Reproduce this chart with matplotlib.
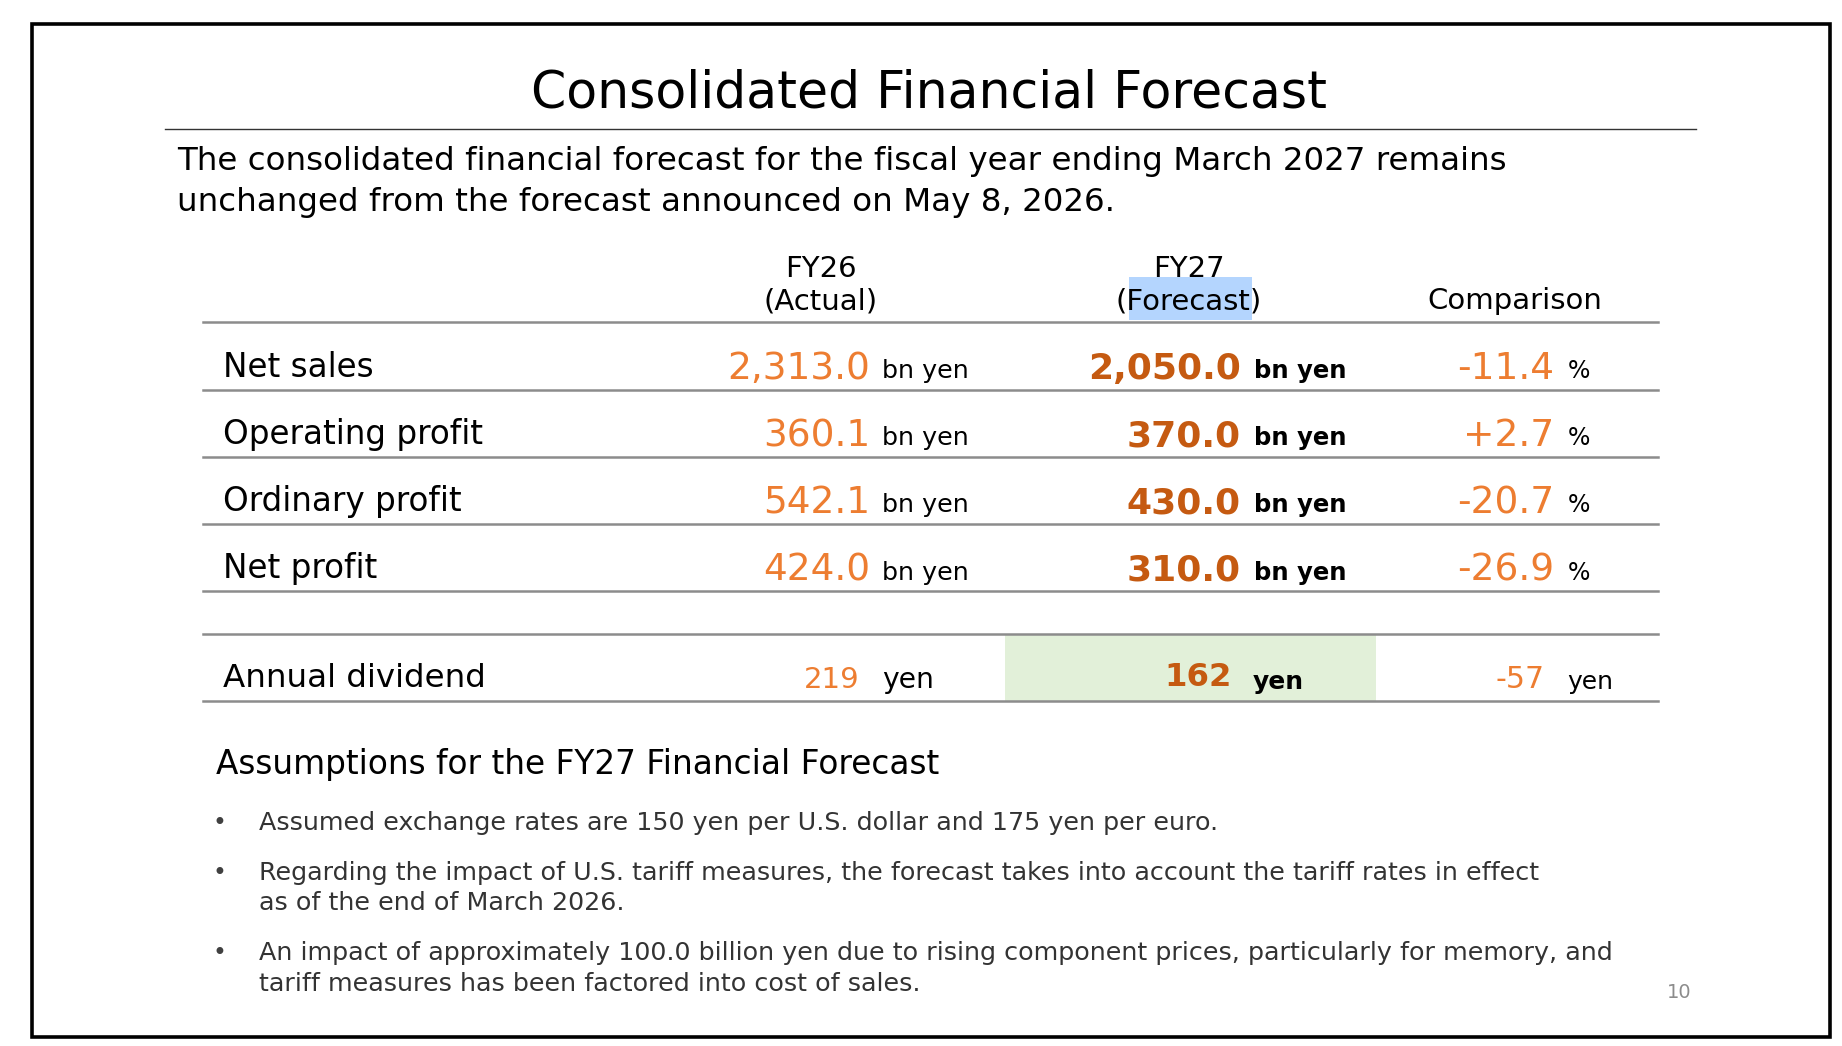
import matplotlib.pyplot as plt
from matplotlib.patches import Rectangle

# table content
row_labels = ['Net sales', 'Operating profit', 'Ordinary profit', 'Net profit']
fy26_values = [2313.0, 360.1, 542.1, 424.0]
fy27_values = [2050.0, 370.0, 430.0, 310.0]
comparison_pct = [-11.4, 2.7, -20.7, -26.9]

dividend_label = 'Annual dividend'
dividend_fy26 = 219
dividend_fy27 = 162
dividend_diff = -57

title = 'Consolidated Financial Forecast'
intro = ['The consolidated financial forecast for the fiscal year ending March 2027 remains',
         'unchanged from the forecast announced on May 8, 2026.']
assumptions_title = 'Assumptions for the FY27 Financial Forecast'
assumptions = [
    ['Assumed exchange rates are 150 yen per U.S. dollar and 175 yen per euro.'],
    ['Regarding the impact of U.S. tariff measures, the forecast takes into account the tariff rates in effect',
     'as of the end of March 2026.'],
    ['An impact of approximately 100.0 billion yen due to rising component prices, particularly for memory, and',
     'tariff measures has been factored into cost of sales.'],
]
page_no = '10'

ORANGE = '#ED7D31'
DARK_ORANGE = '#C55A11'
GRID = '#8C8C8C'

W, H = 1560, 886
fig = plt.figure(figsize=(18.42, 10.46), dpi=100)
ax = fig.add_axes([0, 0, 1, 1])
ax.set_xlim(0, W)
ax.set_ylim(H, 0)
ax.axis('off')

# slide frame
ax.add_patch(Rectangle((27, 20), 1523, 858, fill=False, ec='black', lw=2.6))

ax.text(787, 91, title, ha='center', va='baseline', fontsize=36.4)
ax.plot([140, 1436], [109, 109], color='#333333', lw=1.0)
for i, line in enumerate(intro):
    ax.text(150, 144 + 35 * i, line, ha='left', va='baseline', fontsize=23.4)

# header
ax.add_patch(Rectangle((956, 235), 104, 36, color='#B4D5FE', lw=0))
ax.text(695, 235, 'FY26', ha='center', va='baseline', fontsize=21)
ax.text(695, 262, '(Actual)', ha='center', va='baseline', fontsize=21)
ax.text(1007, 235, 'FY27', ha='center', va='baseline', fontsize=21)
ax.text(1007, 262, '(Forecast)', ha='center', va='baseline', fontsize=21)
ax.text(1283, 262, 'Comparison', ha='center', va='baseline', fontsize=21)
ax.plot([172, 1404], [272.5, 272.5], color=GRID, lw=1.8)

row_y0, pitch = 319, 57
for i, label in enumerate(row_labels):
    y = row_y0 + pitch * i
    ax.text(189, y, label, ha='left', va='baseline', fontsize=23.5)
    ax.text(737, y + 2, f'{fy26_values[i]:,.1f}', ha='right', va='baseline',
            fontsize=27, color=ORANGE)
    ax.text(747, y + 1, 'bn yen', ha='left', va='baseline', fontsize=18.3)
    ax.text(1051, y + 2, f'{fy27_values[i]:,.1f}', ha='right', va='baseline',
            fontsize=26, color=DARK_ORANGE, weight='bold')
    ax.text(1062, y + 1, 'bn yen', ha='left', va='baseline', fontsize=17.5, weight='bold')
    ax.text(1316, y + 2, f'{comparison_pct[i]:+.1f}'.replace('+-', '-'), ha='right',
            va='baseline', fontsize=27, color=ORANGE)
    ax.text(1328, y + 1, '%', ha='left', va='baseline', fontsize=17)
    ax.plot([172, 1404], [y + 11, y + 11], color=GRID, lw=1.8)

# dividend row
ax.add_patch(Rectangle((851, 538), 314, 56, color='#E2F0D9', lw=0))
ax.plot([172, 1404], [537, 537], color=GRID, lw=1.8)
ax.plot([172, 1404], [594, 594], color=GRID, lw=1.8)
dy = 582
ax.text(189, dy, dividend_label, ha='left', va='baseline', fontsize=23.4)
ax.text(728, dy + 1, f'{dividend_fy26}', ha='right', va='baseline', fontsize=21, color=ORANGE)
ax.text(747, dy + 1, 'yen', ha='left', va='baseline', fontsize=20.3)
ax.text(1043, dy - 1, f'{dividend_fy27}', ha='right', va='baseline', fontsize=23.2,
        color=DARK_ORANGE, weight='bold')
ax.text(1061, dy + 2, 'yen', ha='left', va='baseline', fontsize=18, weight='bold')
ax.text(1308, dy + 1, f'{dividend_diff}', ha='right', va='baseline', fontsize=21.5, color=ORANGE)
ax.text(1327, dy + 2, 'yen', ha='left', va='baseline', fontsize=18)

# assumptions
ax.text(183, 656, assumptions_title, ha='left', va='baseline', fontsize=23.6)
by = 703
for item in assumptions:
    ax.text(186, by, '\u2022', ha='center', va='baseline', fontsize=17, color='#404040')
    for j, line in enumerate(item):
        ax.text(219, by + 26 * j, line, ha='left', va='baseline', fontsize=18.3, color='#333333')
    by += 26 * (len(item) - 1) + 42

ax.text(1422, 845, page_no, ha='center', va='baseline', fontsize=14, color='#8C8C8C')

fig.savefig('out.png', dpi=100)
